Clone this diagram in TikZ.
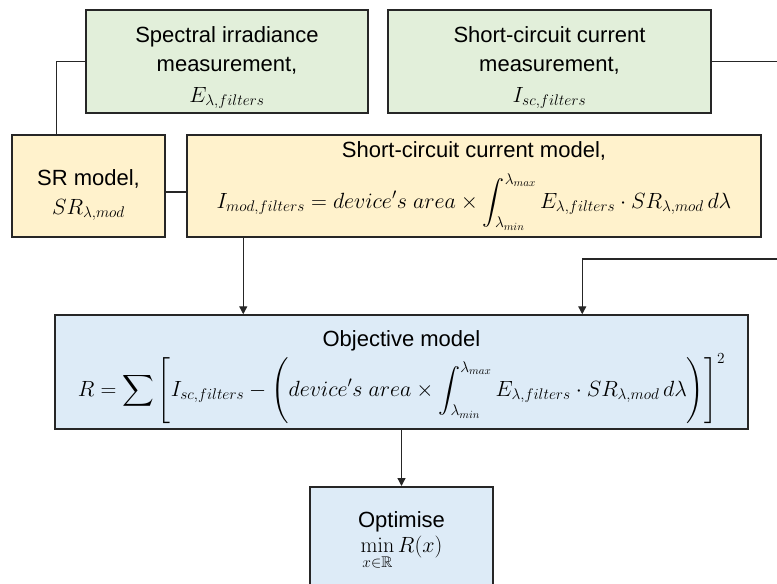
\RequirePackage{fix-cm}
\documentclass[tikz,border=0pt]{standalone}
\usepackage{amsmath,amssymb}
\usepackage[no-math]{fontspec}
\setmainfont{Liberation Sans}
\usetikzlibrary{arrows.meta}

\definecolor{measgreen}{HTML}{E2EFDA}
\definecolor{modelorange}{HTML}{FFF2CC}
\definecolor{objblue}{HTML}{DDEBF7}
\definecolor{edgegray}{HTML}{262626}

\newcommand{\lowstrut}[1]{\rule{0pt}{#1}}

\tikzset{
	box/.style={draw=edgegray, line width=1.5pt, rectangle, align=center,
		inner sep=0pt, font=\fontsize{22}{29}\selectfont},
	meas/.style={box, fill=measgreen},
	model/.style={box, fill=modelorange},
	obj/.style={box, fill=objblue},
	link/.style={draw=edgegray, line width=1.3pt},
	arrow/.style={link, -{Triangle[width=8pt,length=8pt]}}
}

\begin{document}
\begin{tikzpicture}[x=1pt,y=-1pt]
	\clip (0,0) rectangle (777,584);

	% measurements
	\node[meas, minimum width=282pt, minimum height=103pt] (sirr) at (227,61.5)
		{\lowstrut{28pt}Spectral irradiance\\measurement,\\[2pt]$E_{\lambda,filters}$};
	\node[meas, minimum width=323pt, minimum height=103pt] (isc) at (549.5,61.5)
		{\lowstrut{28pt}Short-circuit current\\measurement,\\[2pt]$I_{sc,filters}$};

	% models
	\node[model, minimum width=153pt, minimum height=102pt] (srm) at (88.5,186)
		{\lowstrut{34pt}SR model,\\$SR_{\lambda,mod}$};
	\node[model, minimum width=574pt, minimum height=102pt] (scm) at (474,186)
		{Short-circuit current model,\\[12pt]
		$\displaystyle I_{mod,filters} = device's\ area \times
		\int_{\lambda_{min}}^{\lambda_{max}} E_{\lambda,filters}\cdot SR_{\lambda,mod}\,d\lambda$};

	% objective
	\node[obj, minimum width=693pt, minimum height=114pt] (obj) at (401.5,372)
		{\lowstrut{26pt}Objective model\\[2pt]
		$\displaystyle R = \sum\left[I_{sc,filters} - \left(device's\ area \times
		\int_{\lambda_{min}}^{\lambda_{max}} E_{\lambda,filters}\cdot SR_{\lambda,mod}\,d\lambda\right)\right]^2$};

	% optimiser (runs off the page)
	\node[obj, minimum width=183pt, minimum height=140pt, anchor=north] (opt) at (401.5,486) {};
	\node[font=\fontsize{22}{29}\selectfont, align=center, inner sep=0pt] (opttext) at (401.5,541)
		{Optimise\\[-4pt]$\displaystyle\min_{x\in\mathbb{R}} R(x)$};

	% free ends on the right margin
	\coordinate (iscout) at (777,61.5);
	\coordinate (iscin) at (777,259);
	\coordinate (scmout) at ([xshift=57pt]scm.south west);
	\coordinate (objin) at ([xshift=528pt]obj.north west);

	\draw[link] (sirr.west) -| ([xshift=45pt]srm.north west);
	\draw[link] (isc.east) -- (iscout);
	\draw[link] ([yshift=-6pt]srm.east) -- ([yshift=-6pt]scm.west);
	\draw[arrow] (scmout) -- (scmout |- obj.north);
	\draw[arrow] (iscin) -| (objin);
	\draw[arrow] (obj.south) -- (opt.north);
\end{tikzpicture}
\end{document}
